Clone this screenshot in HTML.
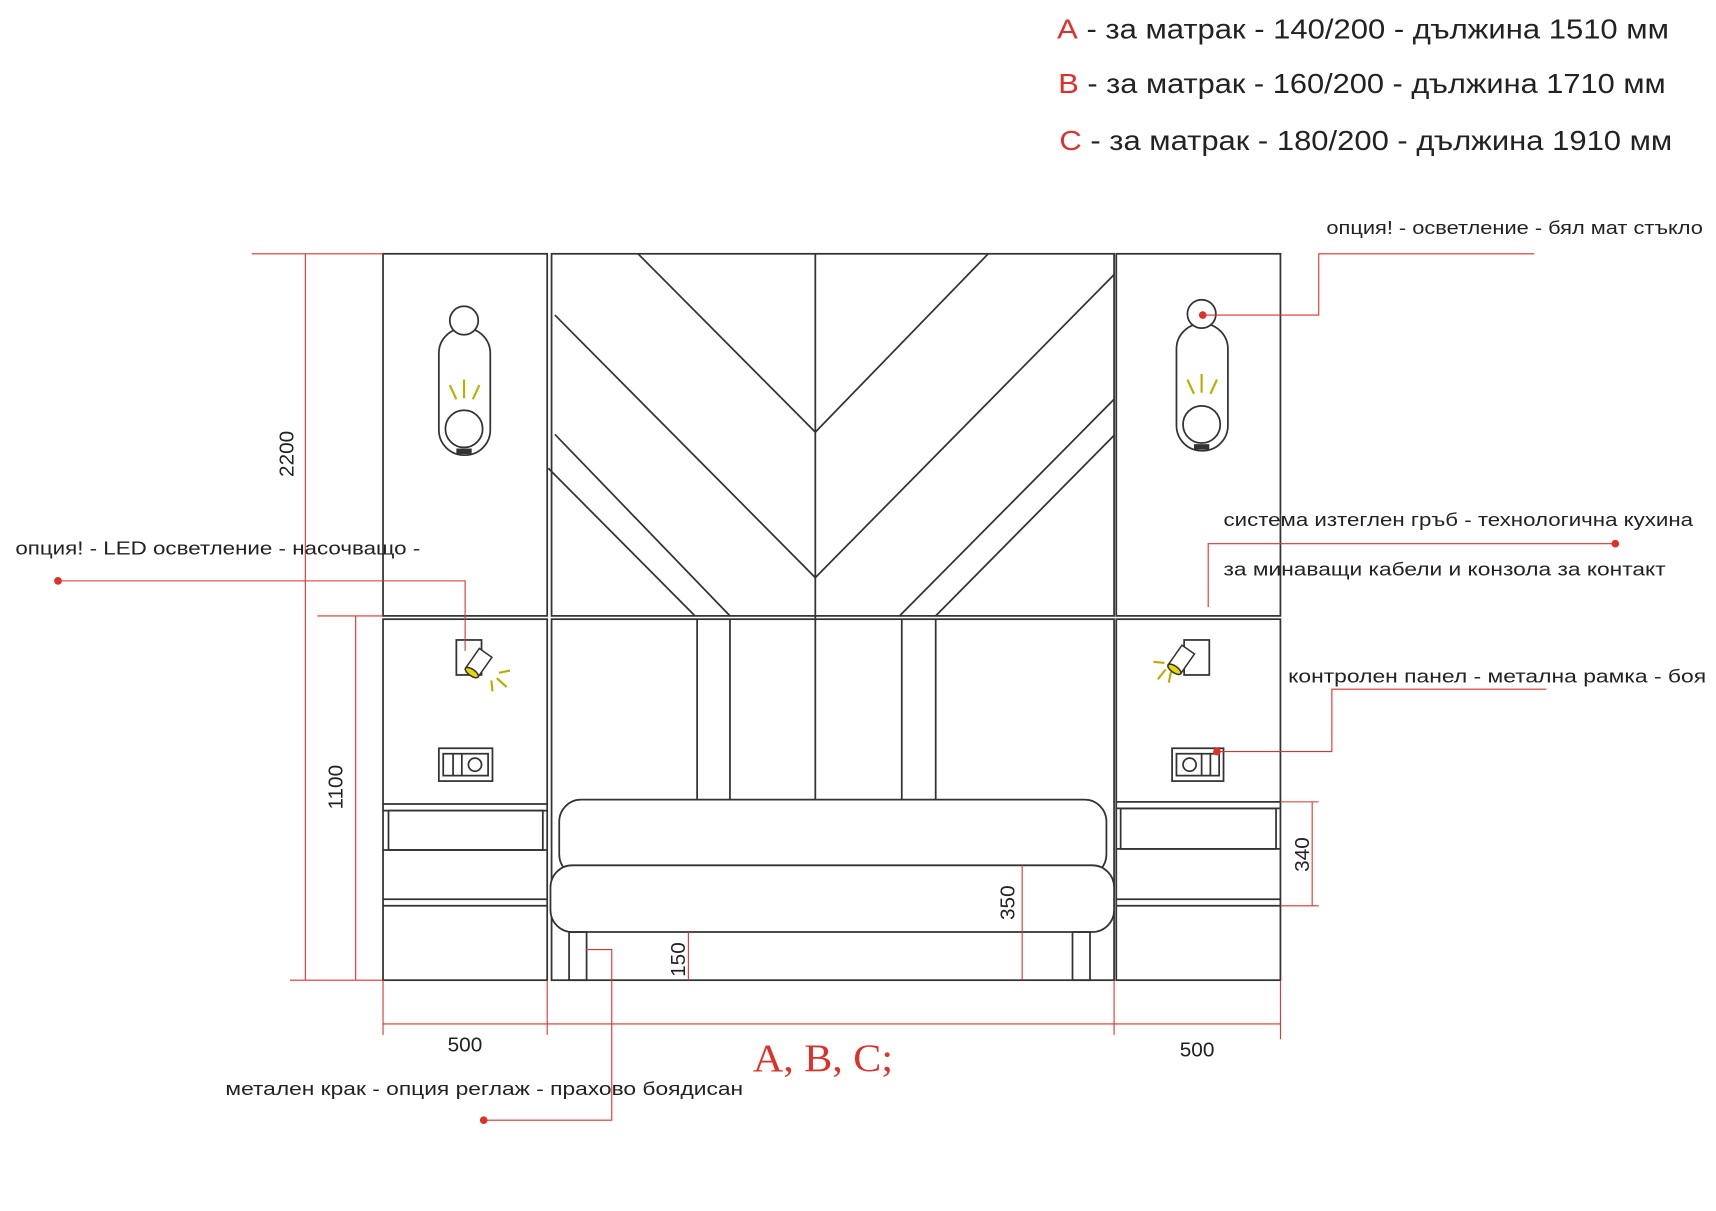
<!DOCTYPE html>
<html><head><meta charset="utf-8"><style>
html,body{margin:0;padding:0;background:#fff;}
svg{display:block;}
</style></head><body>
<svg width="1716" height="1211" viewBox="0 0 1568 1107" preserveAspectRatio="none" xmlns="http://www.w3.org/2000/svg" font-family="Liberation Sans, DejaVu Sans, sans-serif">
<rect width="1568" height="1107" fill="#fff"/>
<!-- legend -->
<g font-size="25" fill="#222">
<text x="966" y="35" textLength="559" lengthAdjust="spacingAndGlyphs"><tspan fill="#e0302a">A</tspan> - за матрак - 140/200 - дължина 1510 мм</text>
<text x="967" y="85" textLength="555" lengthAdjust="spacingAndGlyphs"><tspan fill="#e0302a">B</tspan> - за матрак - 160/200 - дължина 1710 мм</text>
<text x="968" y="137" textLength="560" lengthAdjust="spacingAndGlyphs"><tspan fill="#e0302a">C</tspan> - за матрак - 180/200 - дължина 1910 мм</text>
</g>
<g fill="none" stroke="#333" stroke-width="1.6">
<rect x="350" y="232" width="150" height="331"/>
<rect x="350" y="566" width="150" height="330"/>
<rect x="1020" y="232" width="150" height="331"/>
<rect x="1020" y="566" width="150" height="330"/>
<line x1="350" y1="735" x2="500" y2="735"/><line x1="350" y1="741" x2="500" y2="741"/>
<rect x="355" y="741" width="141" height="36"/>
<line x1="350" y1="777" x2="500" y2="777"/>
<line x1="350" y1="822" x2="500" y2="822"/><line x1="350" y1="828" x2="500" y2="828"/>
<line x1="1020" y1="733" x2="1170" y2="733"/><line x1="1020" y1="739" x2="1170" y2="739"/>
<rect x="1024" y="739" width="142" height="37"/>
<line x1="1020" y1="776" x2="1170" y2="776"/>
<line x1="1020" y1="822" x2="1170" y2="822"/><line x1="1020" y1="828" x2="1170" y2="828"/>
<rect x="504" y="232" width="514" height="331"/>
<rect x="504" y="566" width="514" height="330"/>
<line x1="745" y1="232" x2="745" y2="731"/>
<polyline points="583,232 745,395 903,232"/>
<polyline points="507,288 745,528 1018,251"/>
<line x1="507" y1="397" x2="667" y2="563"/>
<line x1="501" y1="428" x2="635" y2="563"/>
<line x1="1018" y1="365" x2="822" y2="563"/>
<line x1="1018" y1="398" x2="855" y2="563"/>
<line x1="637" y1="566" x2="637" y2="731"/><line x1="667" y1="566" x2="667" y2="731"/>
<line x1="824" y1="566" x2="824" y2="731"/><line x1="855" y1="566" x2="855" y2="731"/>
<rect x="511" y="731" width="500" height="70" rx="20" fill="#fff"/>
<rect x="503" y="791" width="515" height="61" rx="20" fill="#fff"/>
<rect x="520" y="852" width="16" height="44"/>
<rect x="980" y="852" width="16" height="44"/>
<rect x="401" y="300" width="47" height="116" rx="23"/>
<circle cx="424" cy="293" r="13" fill="#fff"/>
<circle cx="424" cy="392" r="17"/>
<rect x="1075" y="296" width="47" height="116" rx="23"/>
<circle cx="1098" cy="287" r="13" fill="#fff"/>
<circle cx="1098" cy="388" r="17"/>
<rect x="417" y="585" width="23" height="32"/>
<rect x="1082" y="585" width="23" height="32"/>
<rect x="401" y="684" width="49" height="30"/>
<rect x="405" y="689" width="41" height="20"/>
<line x1="414" y1="689" x2="414" y2="709"/><line x1="422" y1="689" x2="422" y2="709"/>
<circle cx="434" cy="699" r="6"/>
<rect x="1071" y="684" width="47" height="30"/>
<rect x="1075" y="689" width="39" height="20"/>
<line x1="1098" y1="689" x2="1098" y2="709"/><line x1="1106" y1="689" x2="1106" y2="709"/>
<circle cx="1087" cy="699" r="6"/>
</g>
<rect x="417" y="410" width="14" height="5" fill="#333"/>
<rect x="1091" y="406" width="14" height="5" fill="#333"/>
<g stroke="#b8b000" stroke-width="2">
<line x1="424" y1="347" x2="424" y2="364"/><line x1="411" y1="352" x2="417" y2="365"/><line x1="438" y1="352" x2="432" y2="365"/>
<line x1="1098" y1="342" x2="1098" y2="359"/><line x1="1085" y1="347" x2="1091" y2="360"/><line x1="1112" y1="347" x2="1106" y2="360"/>
<line x1="456" y1="615" x2="466" y2="613"/><line x1="454" y1="620" x2="463" y2="628"/><line x1="449" y1="622" x2="450" y2="632"/>
<line x1="1064" y1="606" x2="1054" y2="605"/><line x1="1065" y1="612" x2="1058" y2="621"/><line x1="1070" y1="614" x2="1068" y2="624"/>
</g>
<g transform="translate(438,605) rotate(35)" stroke="#333" stroke-width="1.4">
<rect x="-7" y="-10" width="14" height="22" fill="#fff"/><ellipse cx="0" cy="12" rx="7" ry="3" fill="#e6d800"/>
</g>
<g transform="translate(1080,602) rotate(-145)" stroke="#333" stroke-width="1.4">
<rect x="-7" y="-12" width="14" height="22" fill="#fff"/><ellipse cx="0" cy="-12" rx="7" ry="3" fill="#e6d800"/>
</g>
<g stroke="#e0302a" stroke-width="1" fill="none">
<line x1="230" y1="232" x2="350" y2="232"/><line x1="265" y1="896" x2="350" y2="896"/>
<line x1="279" y1="232" x2="279" y2="896"/>
<line x1="290" y1="563" x2="350" y2="563"/>
<line x1="325" y1="563" x2="325" y2="896"/>
<line x1="934" y1="790" x2="934" y2="896"/>
<line x1="629" y1="852" x2="629" y2="896"/>
<line x1="1170" y1="733" x2="1205" y2="733"/><line x1="1170" y1="828" x2="1205" y2="828"/>
<line x1="1199" y1="733" x2="1199" y2="828"/>
<line x1="350" y1="896" x2="350" y2="946"/><line x1="500" y1="896" x2="500" y2="946"/>
<line x1="1018" y1="896" x2="1018" y2="946"/><line x1="1170" y1="896" x2="1170" y2="950"/>
<line x1="350" y1="936" x2="1170" y2="936"/>
<polyline points="1402,232 1205,232 1205,288 1099,288"/>
<polyline points="53,531 425,531 425,595"/>
<polyline points="1476,497 1104,497 1104,555"/>
<polyline points="1413,630 1217,630 1217,687 1112,687"/>
<polyline points="442,1024 559,1024 559,868 535,868"/>
</g>
<g fill="#e0302a">
<circle cx="1099" cy="288" r="3.5"/><circle cx="53" cy="531" r="3.5"/><circle cx="1476" cy="497" r="3.5"/>
<circle cx="1112" cy="687" r="3.5"/><circle cx="442" cy="1024" r="3.5"/>
</g>
<g font-size="19" fill="#222">
<text transform="translate(268,436) rotate(-90)">2200</text>
<text transform="translate(313,740) rotate(-90)">1100</text>
<text transform="translate(927,841) rotate(-90)">350</text>
<text transform="translate(626,893) rotate(-90)">150</text>
<text transform="translate(1196,797) rotate(-90)">340</text>
<text x="409" y="961">500</text>
<text x="1078" y="966">500</text>
</g>
<text x="688" y="979" font-family="Liberation Serif, serif" font-size="36" fill="#e0302a" textLength="128" lengthAdjust="spacingAndGlyphs">A, B, C;</text>
<g font-size="17" fill="#222">
<text x="1212" y="214" textLength="344" lengthAdjust="spacingAndGlyphs">опция! - осветление - бял мат стъкло</text>
<text x="14" y="507" textLength="370" lengthAdjust="spacingAndGlyphs">опция!  - LED осветление - насочващо -</text>
<text x="1118" y="481" textLength="429" lengthAdjust="spacingAndGlyphs">система изтеглен гръб - технологична кухина</text>
<text x="1118" y="526" textLength="404" lengthAdjust="spacingAndGlyphs">за минаващи кабели и конзола за контакт</text>
<text x="1177" y="624" textLength="382" lengthAdjust="spacingAndGlyphs">контролен панел - метална рамка - боя</text>
<text x="206" y="1001" textLength="473" lengthAdjust="spacingAndGlyphs">метален крак - опция реглаж - прахово боядисан</text>
</g>
</svg>
</body></html>
